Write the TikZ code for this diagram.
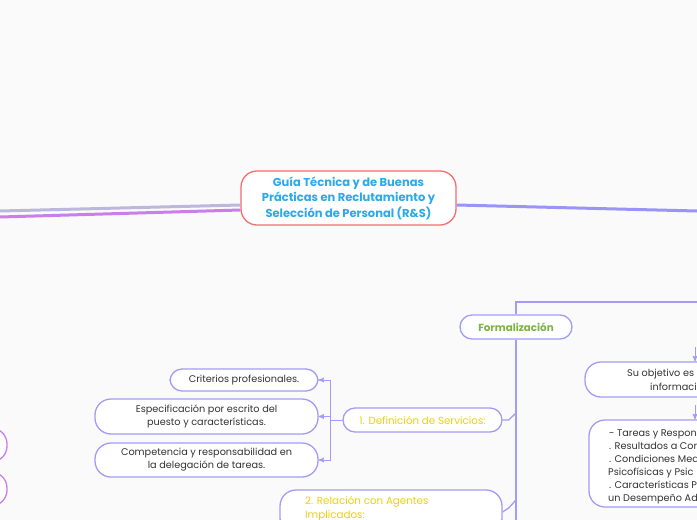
\documentclass[tikz,border=0pt]{standalone}
\usepackage{fontspec}
\setmainfont{Poppins}
\usetikzlibrary{calc}
\usetikzlibrary{arrows}
\definecolor{lav}{HTML}{A39CF6}
\definecolor{mainred}{HTML}{F46E6E}
\definecolor{mainblue}{HTML}{2BA9E9}
\definecolor{leafgreen}{HTML}{7CB342}
\definecolor{gold}{HTML}{EDD010}
\definecolor{greybranch}{HTML}{BCB7DC}
\definecolor{purplebranch}{HTML}{C97EEC}
\definecolor{bluebranch}{HTML}{9A94F7}
\definecolor{inktext}{HTML}{333333}

\begin{document}
\begin{tikzpicture}[x=1pt, y=-1pt,
  box/.style={draw=lav, line width=1.3pt, rounded corners=12pt, fill=white, inner sep=0pt, align=center, text=inktext, font=\fontsize{9.7}{13}\selectfont},
  tallbox/.style={box, rounded corners=16pt},
  txt/.style={anchor=base west, inner sep=0pt, text=inktext, font=\fontsize{9.7}{13}\selectfont},
  link/.style={draw=lav, line width=1.3pt},
  branch/.style={line width=3pt}]
\useasboundingbox (0,0) rectangle (697,520);
\clip (0,0) rectangle (697,520);
\fill[white!98!black] (0,0) rectangle (697,520);

% main topic
\node[draw=mainred, line width=1.3pt, rounded corners=16pt, fill=white, minimum width=215pt, minimum height=54pt, inner sep=0pt, align=center, text=mainblue, font=\fontsize{11.5}{15.5}\bfseries] (central) at (348.5,198)
 {Guía Técnica y de Buenas\\Prácticas en Reclutamiento y\\Selección de Personal (R\&S)};
\coordinate (lgrey) at (0,211);
\coordinate (lpurple) at (0,217);
\coordinate (rblue) at (697,211);
\draw[branch, greybranch] ($(central.west)+(0,7)$) -- (lgrey);
\draw[branch, purplebranch] ($(central.west)+(0,12)$) -- (lpurple);
\draw[branch, bluebranch] ($(central.east)+(0,7)$) -- (rblue);

% left edge nodes
\node[box, draw=purplebranch, minimum width=207pt, minimum height=34pt, rounded corners=16pt] (lefta) at (-96.5,445) {};
\node[box, draw=purplebranch, minimum width=207pt, minimum height=34pt, rounded corners=16pt] (leftb) at (-96.5,489) {};

% Formalizacion
\node[box, minimum width=112pt, minimum height=24pt, text=leafgreen, font=\fontsize{10.3}{12}\bfseries] (formal) at (516,327) {Formalización};
\coordinate (ftop) at (697,302);
\coordinate (fbot) at (516,530);
\draw[link] (formal.north) |- (ftop);
\draw[link] (formal.south) -- (fbot);

\node[box, minimum width=159pt, minimum height=24pt, text=gold, font=\fontsize{10.3}{13}\selectfont] (defserv) at (422.5,420) {1. Definición de Servicios:};
\node[tallbox, minimum width=222pt, minimum height=44pt] (relag) at (391,512) {};
\node[txt, text=gold, font=\fontsize{10.3}{13}\selectfont] (relagA) at (305,504) {2. Relación con Agentes};
\node[txt, text=gold, font=\fontsize{10.3}{13}\selectfont] (relagB) at (305,518) {Implicados:};
\draw[link] (defserv.east) -- ++(6,0) -- (516,413);
\draw[link] (relag.east) -- ++(6,-4) -- (516,500);

\node[box, minimum width=148pt, minimum height=22pt] (crit) at (244,380) {Criterios profesionales.};
\node[tallbox, minimum width=223pt, minimum height=35pt] (espec) at (206.5,416.5) {Especificación por escrito del\\puesto y características.};
\node[tallbox, minimum width=223pt, minimum height=34pt] (compet) at (206.5,460) {Competencia y responsabilidad en\\la delegación de tareas.};
\foreach \leaf in {crit, espec, compet}
  \draw[link, line width=1pt, ->, >=stealth'] (defserv.west) -- ++(-12,0) |- (\leaf.east);

% right side
\node[tallbox, minimum width=230pt, minimum height=35pt] (objet) at (700,379.5) {};
\node[txt] (objetA) at (627,376) {Su objetivo es};
\node[txt] (objetB) at (650,390) {informaci};
\node[tallbox, minimum width=230pt, minimum height=87pt] (tareas) at (704,463.5) {};
\node[txt] (tareasA) at (609,436) {- Tareas y Respon};
\node[txt] (tareasB) at (609,449) {. Resultados a Cor};
\node[txt] (tareasC) at (609,462) {. Condiciones Med};
\node[txt] (tareasD) at (608,475) {Psicofísicas y Psic};
\node[txt] (tareasE) at (609,488) {. Características P};
\node[txt] (tareasF) at (608,501) {un Desempeño Ad};
\coordinate (objin) at (695,347);
\coordinate (tarin) at (695,405);
\draw[link, line width=1pt, ->, >=stealth'] (objin) -- (objin |- objet.north);
\draw[link, line width=1pt, ->, >=stealth'] (tarin) -- (tarin |- tareas.north);
\end{tikzpicture}
\end{document}
